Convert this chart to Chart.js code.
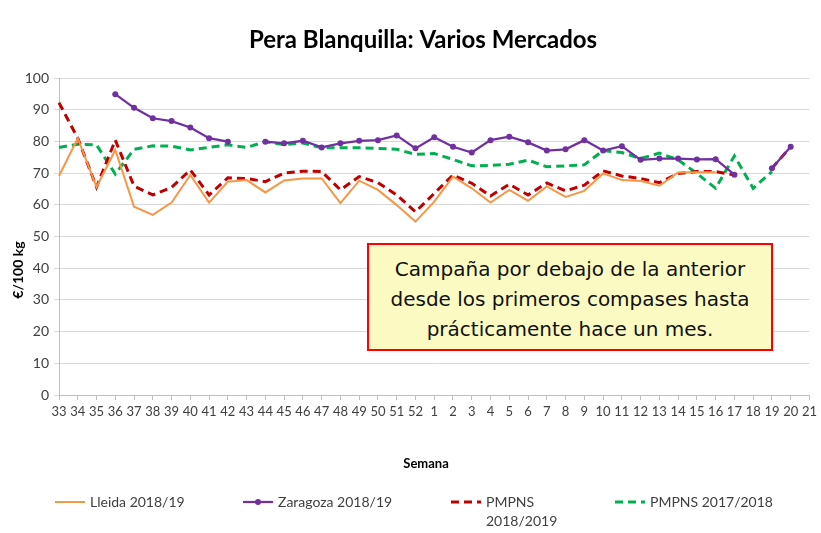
<!DOCTYPE html>
<html>
<head>
<meta charset="utf-8">
<script src="https://cdn.jsdelivr.net/npm/chart.js@4"></script>
<style>
  html, body { margin: 0; padding: 0; background: #fff; }
  #wrap { position: relative; width: 821px; height: 533px; }
  #note {
    position: absolute; left: 367px; top: 243px; width: 406px; height: 108px;
    box-sizing: border-box; border: 2px solid #ff0000; background: #fafac2;
    padding-top: 9px; text-align: center;
    font-family: "DejaVu Sans", sans-serif; font-size: 20px; line-height: 30px; color: #111;
  }
</style>
</head>
<body>
<div id="wrap">
  <canvas id="grafico" width="821" height="533"></canvas>
  <div id="note">Campaña por debajo de la anterior<br>desde los primeros compases hasta<br>prácticamente hace un mes.</div>
</div>
<script>
// semanas de campaña (33..52, 1..21)
const semanas = ["33","34","35","36","37","38","39","40","41","42","43","44","45","46","47","48","49","50","51","52",
  "1","2","3","4","5","6","7","8","9","10","11","12","13","14","15","16","17","18","19","20","21"];

const lleida = [69.1, 81, 65.6, 77.3, 59.4, 56.8, 60.7, 69.4, 60.7, 67.3, 67.8, 63.9, 67.7, 68.3, 68.3, 60.5, 67.6, 64.7, 59.9, 54.7,
  61, 68.9, 65.2, 60.7, 64.7, 61.3, 65.8, 62.5, 64.4, 69.9, 67.8, 67.5, 66, 70.2, 70.3, 70.3, null, null, null, null, null];

const zaragoza = [null, null, null, 94.9, 90.6, 87.3, 86.4, 84.4, 81, 79.9, null, 79.9, 79.4, 80.2, 78.1, 79.4, 80.2, 80.4, 81.9, 77.8,
  81.3, 78.3, 76.5, 80.4, 81.5, 79.7, 77.1, 77.5, 80.4, 77.1, 78.5, 74.2, 74.6, 74.6, 74.3, 74.4, 69.5, null, 71.5, 78.3, null];

const pmpns1819 = [92.2, 81, 65.6, 80.4, 65.9, 63.1, 65.5, 71, 63.1, 68.5, 68.3, 67.3, 70, 70.6, 70.5, 64.7, 68.9, 67, 63.1, 57.8,
  63.6, 69.4, 66.8, 62.8, 66.5, 63.1, 66.9, 64.4, 66.2, 70.7, 69.1, 68.3, 67, 69.9, 70.5, 70.5, 69.4, null, 71.5, 78.3, null];

const pmpns1718 = [78.1, 79.1, 78.9, 69.7, 77.5, 78.6, 78.5, 77.3, 78.1, 78.9, 78.1, 79.9, 79, 79.5, 78, 78, 78, 77.8, 77.5, 75.9,
  76.2, 74.3, 72.3, 72.4, 72.8, 74.1, 72, 72.3, 72.6, 77.1, 76.5, 74.6, 76.3, 74.2, 69.9, 65.2, 75.4, 65.2, 70.5, null, null];

const yTicks = [0, 10, 20, 30, 40, 50, 60, 70, 80, 90, 100];

// textos fijos dibujados sobre el canvas (títulos y leyenda)
const textosPlugin = {
  id: "textos",
  afterDraw(chart) {
    const ctx = chart.ctx;
    ctx.save();
    ctx.fillStyle = "#000";
    ctx.textAlign = "center";
    ctx.textBaseline = "middle";
    ctx.font = "bold 24px Lato";
    ctx.fillText("Pera Blanquilla: Varios Mercados", 423, 40);
    ctx.font = "bold 13px Lato";
    ctx.fillText("Semana", 426, 464);
    ctx.save();
    ctx.translate(18, 270);
    ctx.rotate(-Math.PI / 2);
    ctx.font = "bold 14px Lato";
    ctx.fillText("€/100 kg", 0, 0);
    ctx.restore();

    // leyenda
    const items = [
      { ds: 0, x: 55, lines: ["Lleida 2018/19"] },
      { ds: 1, x: 243, lines: ["Zaragoza 2018/19"] },
      { ds: 2, x: 451, lines: ["PMPNS", "2018/2019"] },
      { ds: 3, x: 615, lines: ["PMPNS 2017/2018"] },
    ];
    const y = 502;
    ctx.textAlign = "left";
    ctx.font = "14px Lato";
    items.forEach((it) => {
      const d = chart.data.datasets[it.ds];
      ctx.strokeStyle = d.borderColor;
      ctx.lineWidth = d.borderWidth;
      ctx.setLineDash(d.borderDash || []);
      ctx.beginPath();
      ctx.moveTo(it.x, y);
      ctx.lineTo(it.x + 30, y);
      ctx.stroke();
      ctx.setLineDash([]);
      if (d.pointRadius > 0) {
        ctx.fillStyle = d.borderColor;
        ctx.beginPath();
        ctx.arc(it.x + 15, y, d.pointRadius, 0, Math.PI * 2);
        ctx.fill();
      }
      ctx.fillStyle = "#404040";
      it.lines.forEach((t, k) => ctx.fillText(t, it.x + 35, y + k * 19));
    });
    ctx.restore();
  },
};

new Chart(document.getElementById("grafico"), {
  type: "line",
  data: {
    labels: semanas,
    datasets: [
      { label: "Lleida 2018/19", data: lleida, borderColor: "#f79646", borderWidth: 2, pointRadius: 0, tension: 0 },
      { label: "Zaragoza 2018/19", data: zaragoza, borderColor: "#7030a0", backgroundColor: "#7030a0", borderWidth: 2.25, pointRadius: 3, pointBorderWidth: 0, tension: 0 },
      { label: "PMPNS 2018/2019", data: pmpns1819, borderColor: "#c00000", borderWidth: 3, borderDash: [8, 5], pointRadius: 0, tension: 0 },
      { label: "PMPNS 2017/2018", data: pmpns1718, borderColor: "#00b050", borderWidth: 3, borderDash: [8, 5], pointRadius: 0, tension: 0 },
    ],
  },
  options: {
    responsive: false,
    animation: false,
    layout: { padding: { left: 0, right: 11, top: 78, bottom: 0 } },
    plugins: { legend: { display: false }, title: { display: false }, tooltip: { enabled: false } },
    scales: {
      x: {
        grid: { display: true, drawOnChartArea: false, tickLength: 5, color: "#bfbfbf" },
        border: { color: "#bfbfbf" },
        ticks: { autoSkip: false, maxRotation: 0, minRotation: 0, padding: 4, color: "#404040", font: { family: "Lato", size: 13 } },
        afterFit(s) { s.height = 138; },
      },
      y: {
        min: 0,
        max: 100,
        afterBuildTicks(s) { s.ticks = yTicks.map((v) => ({ value: v })); },
        grid: { color: "#d9d9d9", tickLength: 5 },
        border: { color: "#bfbfbf" },
        ticks: { padding: 5, color: "#404040", font: { family: "Lato", size: 14 } },
        afterFit(s) { s.width = 59; },
      },
    },
  },
  plugins: [textosPlugin],
});
</script>
</body>
</html>
